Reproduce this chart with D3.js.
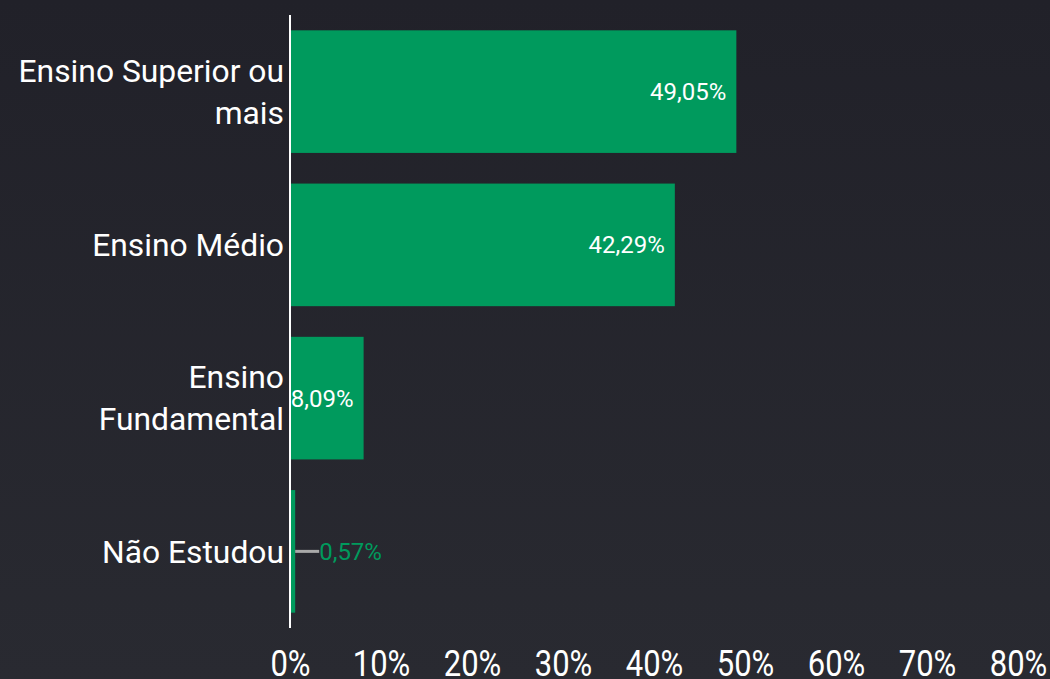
<!DOCTYPE html>
<html><head><meta charset="utf-8">
<script src="https://cdn.jsdelivr.net/npm/d3@7"></script>
<style>html,body{margin:0;padding:0;background:#25262d;}svg{display:block;font-family:Roboto,"Noto Sans",sans-serif;}</style>
</head><body>
<svg id="chart" width="1050" height="679"></svg>
<script>
const categories = [["Ensino Superior ou","mais"],["Ensino Médio"],["Ensino","Fundamental"],["Não Estudou"]];
const values = [49.05, 42.29, 8.09, 0.57];
const valueLabels = ["49,05%","42,29%","8,09%","0,57%"];
const tickValues = [0,10,20,30,40,50,60,70,80];
const tickLabels = ["0%","10%","20%","30%","40%","50%","60%","70%","80%"];

const svg = d3.select("#chart");
const W = 1050, H = 679;
const defs = svg.append("defs");
const grad = defs.append("linearGradient").attr("id","bg").attr("x1",0).attr("y1",0).attr("x2",0).attr("y2",1);
grad.append("stop").attr("offset","0%").attr("stop-color","#212129");
grad.append("stop").attr("offset","100%").attr("stop-color","#292a31");
svg.append("rect").attr("width",W).attr("height",H).attr("fill","url(#bg)");

const green = "#009a5d";
const x = d3.scaleLinear().domain([0,80]).range([290,1018]);
const idx = d3.range(categories.length);
const y = d3.scaleBand().domain(idx).range([15,628]).paddingInner(0.2).paddingOuter(0.1);

// bars
svg.selectAll("rect.bar").data(idx).join("rect").attr("class","bar")
  .attr("x", x(0)+1).attr("y", i=>y(i))
  .attr("width", i=>Math.max(0, x(values[i])-x(0)-1)).attr("height", y.bandwidth())
  .attr("fill", green);

// y axis line
svg.append("line").attr("x1",x(0)).attr("x2",x(0)).attr("y1",15).attr("y2",628)
  .attr("stroke","#ffffff").attr("stroke-width",2);

// category labels
const lh = 42;
idx.forEach(i=>{
  const lines = categories[i];
  const cy = y(i)+y.bandwidth()/2;
  const t = svg.append("text").attr("text-anchor","end").attr("fill","#ffffff")
    .attr("font-size",31.8);
  lines.forEach((ln,k)=>{
    t.append("tspan").attr("x",284).attr("y", cy + (k-(lines.length-1)/2)*lh).attr("dy","0.35em").text(ln);
  });
});

// value labels
idx.forEach(i=>{
  const cy = y(i)+y.bandwidth()/2;
  const xe = x(values[i]);
  if (values[i] > 5) {
    svg.append("text").attr("x", xe-10).attr("y", cy).attr("dy","0.35em")
      .attr("text-anchor","end").attr("fill","#ffffff").attr("font-size",24).text(valueLabels[i]);
  } else {
    svg.append("line").attr("x1", xe).attr("x2", xe+24).attr("y1", cy).attr("y2", cy)
      .attr("stroke","#a9a9a9").attr("stroke-width",3);
    svg.append("text").attr("x", xe+24).attr("y", cy).attr("dy","0.35em")
      .attr("text-anchor","start").attr("fill",green).attr("font-size",24).text(valueLabels[i]);
  }
});

// x axis tick labels
const ax = svg.append("g").attr("transform","translate(0,628)")
  .call(d3.axisBottom(x).tickValues(tickValues).tickFormat((d,i)=>tickLabels[i]).tickSize(0).tickPadding(0));
ax.select(".domain").remove();
ax.selectAll("text").attr("fill","#ffffff").attr("font-size",31)
  .attr("font-family","Roboto, sans-serif")
  .attr("dy",null).attr("y",null)
  .attr("transform","translate(0,48) scale(1,1.2)");
</script>
</body></html>
